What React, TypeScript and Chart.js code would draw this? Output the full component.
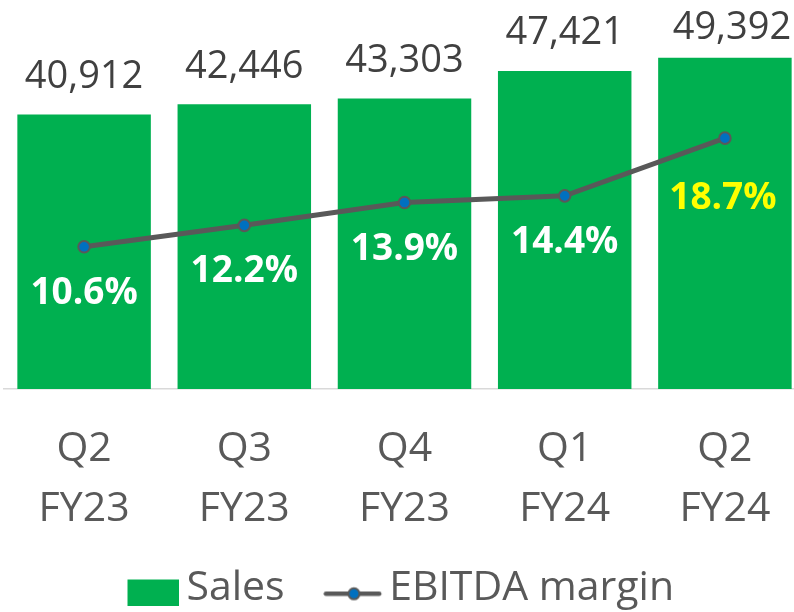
import React, { useEffect, useRef } from "react";
import { Chart, registerables } from "chart.js";

Chart.register(...registerables);

const categories: string[][] = [
  ["Q2", "FY23"],
  ["Q3", "FY23"],
  ["Q4", "FY23"],
  ["Q1", "FY24"],
  ["Q2", "FY24"],
];
const salesValues = [40912, 42446, 43303, 47421, 49392];
const ebitdaMargin = [10.6, 12.2, 13.9, 14.4, 18.7];
const seriesNames = ["Sales", "EBITDA margin"];
const salesAxisMax = 58000;
const marginAxisMax = 29;

const GREEN = "#00B050";
const GREY_LINE = "#595959";
const DOT_BLUE = "#0070C0";
const TEXT_GREY = "#595959";
const VALUE_GREY = "#404040";
const FONT = "'Open Sans', sans-serif";

function legendBoxImage(): HTMLCanvasElement {
  const c = document.createElement("canvas");
  c.width = 58;
  c.height = 34;
  const ctx = c.getContext("2d")!;
  ctx.fillStyle = GREEN;
  ctx.fillRect(6, 8, 52, 26);
  return c;
}

function legendLineImage(): HTMLCanvasElement {
  const c = document.createElement("canvas");
  c.width = 60;
  c.height = 30;
  const ctx = c.getContext("2d")!;
  ctx.strokeStyle = GREY_LINE;
  ctx.lineWidth = 4.5;
  ctx.lineCap = "round";
  ctx.beginPath();
  ctx.moveTo(2.8, 20.3);
  ctx.lineTo(56, 20.3);
  ctx.stroke();
  ctx.beginPath();
  ctx.arc(30.8, 20.3, 5.5, 0, Math.PI * 2);
  ctx.fillStyle = DOT_BLUE;
  ctx.fill();
  ctx.lineWidth = 2;
  ctx.stroke();
  return c;
}

const labelsPlugin = {
  id: "valueLabels",
  afterLayout(chart: any) {
    const lg = chart.legend;
    if (lg) {
      lg.top -= 24;
      lg.bottom -= 24;
    }
  },
  afterDatasetsDraw(chart: any) {
    const ctx = chart.ctx as CanvasRenderingContext2D;
    const barMeta = chart.getDatasetMeta(0);
    const lineMeta = chart.getDatasetMeta(1);
    ctx.save();
    ctx.textAlign = "center";
    ctx.textBaseline = "middle";
    ctx.font = `38px ${FONT}`;
    ctx.fillStyle = VALUE_GREY;
    const n = barMeta.data.length;
    barMeta.data.forEach((el: any, i: number) => {
      const last = i === n - 1;
      ctx.fillText(
        salesValues[i].toLocaleString("en-US"),
        el.x + (last ? 7 : 0),
        el.y - (last ? 30 : 37.5)
      );
    });
    ctx.font = `bold 37px ${FONT}`;
    lineMeta.data.forEach((pt: any, i: number) => {
      const last = i === n - 1;
      ctx.fillStyle = last ? "#FFFF00" : "#FFFFFF";
      ctx.fillText(
        ebitdaMargin[i].toFixed(1) + "%",
        pt.x + (last ? -2 : 0),
        pt.y + (last ? 60.3 : 46.5)
      );
    });
    ctx.restore();
  },
};

export default function App() {
  const ref = useRef<HTMLCanvasElement>(null);

  useEffect(() => {
    if (!ref.current) return;
    const boxImg = legendBoxImage();
    const lineImg = legendLineImage();
    const chart = new Chart(ref.current, {
      type: "bar",
      data: {
        labels: categories,
        datasets: [
          {
            type: "bar",
            label: seriesNames[0],
            data: salesValues,
            backgroundColor: GREEN,
            borderWidth: 0,
            barPercentage: 0.8333,
            categoryPercentage: 1,
            yAxisID: "y",
            order: 2,
          },
          {
            type: "line",
            label: seriesNames[1],
            data: ebitdaMargin,
            borderColor: GREY_LINE,
            borderWidth: 5,
            pointRadius: 5.8,
            pointBackgroundColor: DOT_BLUE,
            pointBorderColor: GREY_LINE,
            pointBorderWidth: 2,
            tension: 0,
            yAxisID: "y2",
            order: 1,
          } as any,
        ],
      },
      options: {
        responsive: false,
        animation: false,
        layout: {
          autoPadding: false,
          padding: { left: 4, right: 15, top: 0, bottom: 0 },
        },
        scales: {
          x: {
            grid: { display: false, drawTicks: false },
            border: { display: true, color: "#D9D9D9", width: 1.5 },
            ticks: {
              color: TEXT_GREY,
              font: { family: FONT, size: 41, lineHeight: 1.4634 },
              padding: 30,
              maxRotation: 0,
              autoSkip: false,
            },
            afterFit: (scale: any) => {
              scale.height = 150;
            },
          },
          y: { display: false, min: 0, max: salesAxisMax },
          y2: { display: false, min: 0, max: marginAxisMax, position: "right" },
        },
        plugins: {
          tooltip: { enabled: false },
          legend: {
            position: "bottom",
            labels: {
              usePointStyle: true,
              pointStyleWidth: 31,
              padding: 53,
              color: TEXT_GREY,
              font: { family: FONT, size: 41 },
              generateLabels: () => [
                {
                  text: seriesNames[0],
                  pointStyle: boxImg as any,
                  fillStyle: GREEN,
                  strokeStyle: GREEN,
                  lineWidth: 0,
                  hidden: false,
                  datasetIndex: 0,
                  fontColor: TEXT_GREY,
                },
                {
                  text: seriesNames[1],
                  pointStyle: lineImg as any,
                  fillStyle: DOT_BLUE,
                  strokeStyle: GREY_LINE,
                  lineWidth: 0,
                  hidden: false,
                  datasetIndex: 1,
                  fontColor: TEXT_GREY,
                },
              ],
            },
          },
        },
      },
      plugins: [labelsPlugin],
    });
    return () => chart.destroy();
  }, []);

  return (
    <div
      style={{
        position: "absolute",
        left: 0,
        top: 0,
        width: 794,
        height: 612,
        overflow: "hidden",
        background: "#FFFFFF",
      }}
    >
      <canvas ref={ref} width={820} height={643} style={{ display: "block" }} />
    </div>
  );
}
